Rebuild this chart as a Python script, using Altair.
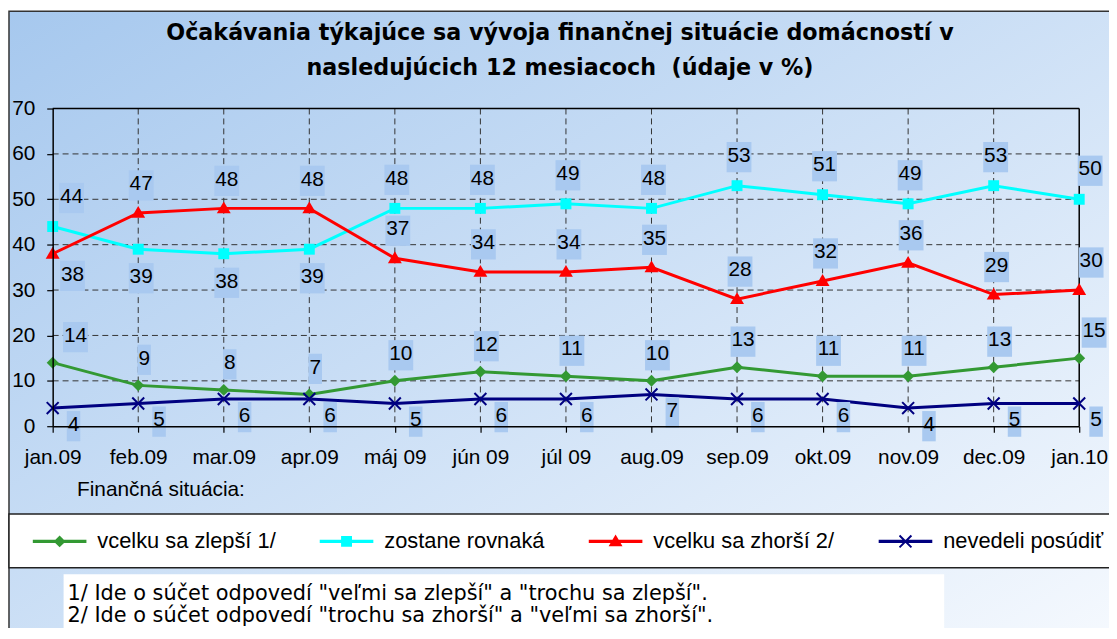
import json
import altair as alt
import pandas as pd

# ---------------- data ----------------
months = ["jan.09", "feb.09", "mar.09", "apr.09", "máj 09", "jún 09", "júl 09",
          "aug.09", "sep.09", "okt.09", "nov.09", "dec.09", "jan.10"]
series_names = ["vcelku sa zlepší 1/", "zostane rovnaká", "vcelku sa zhorší 2/", "nevedeli posúdiť"]
better = [14, 9, 8, 7, 10, 12, 11, 10, 13, 11, 11, 13, 15]
same = [44, 39, 38, 39, 48, 48, 49, 48, 53, 51, 49, 53, 50]
worse = [38, 47, 48, 48, 37, 34, 34, 35, 28, 32, 36, 29, 30]
unsure = [4, 5, 6, 6, 5, 6, 6, 7, 6, 6, 4, 5, 5]
y_ticks = [0, 10, 20, 30, 40, 50, 60, 70]
title_lines = ["Očakávania týkajúce sa vývoja finančnej situácie domácností v",
               "nasledujúcich 12 mesiacoch \u00a0(údaje v %)"]
x_title = "Finančná situácia:"
footnotes = ['1/ Ide o súčet odpovedí "veľmi sa zlepší" a "trochu sa zlepší".',
             '2/ Ide o súčet odpovedí "trochu sa zhorší" a "veľmi sa zhorší".']

# ---------------- styles ----------------
colors = ["#339933", "#00FFFF", "#FF0000", "#000080"]
BOX = "#A9C9F0"
FONT = "Liberation Sans, Arial, sans-serif"
WIDE = "DejaVu Sans, sans-serif"
W, H = 1034, 320

values = [better, same, worse, unsure]
rows = []
for s, name in enumerate(series_names):
    for i, m in enumerate(months):
        v = values[s][i]
        if s == 0:
            side = "above"
        elif s == 3:
            side = "below"
        else:
            other = values[3 - s][i]
            side = "below" if (v < other and other - v <= 10) else "above"
        rows.append(dict(month=m, idx=i, series=name, value=v, side=side))
df = pd.DataFrame(rows)
last = len(months) - 1


def xe(field="month"):
    return alt.X(f"{field}:N", sort=months,
                 scale=alt.Scale(domain=months, type="point", padding=0),
                 axis=alt.Axis(labelAngle=0, labelFont=FONT, labelFontSize=21, labelColor="black",
                               labelPadding=15, tickSize=6, tickColor="black", tickWidth=1.2,
                               domainColor="black", domainWidth=1.5, grid=False, zindex=1,
                               labelOverlap=False,
                               title=x_title, titleFont=FONT, titleFontSize=21,
                               titleFontWeight="normal", titleColor="black", titleX=24, titleY=70,
                               titleAlign="left", titleAnchor="start", titleBaseline="alphabetic"))


def ye(field="value"):
    return alt.Y(f"{field}:Q", scale=alt.Scale(domain=[0, 70], nice=False, zero=True),
                 axis=alt.Axis(values=y_ticks, labelFont=FONT, labelFontSize=21, labelColor="black",
                               labelPadding=12, tickSize=6, tickColor="black", tickWidth=1.2,
                               domainColor="black", domainWidth=1.5, grid=False, zindex=1,
                               labelOverlap=False, title=None))


def xpath(cx, a=6.0, t=1.0):
    k = t / 2 ** 0.5
    p1 = [(cx - a + k, -a - k), (cx + a + k, a - k), (cx + a - k, a + k), (cx - a - k, -a + k)]
    p2 = [(cx - a - k, a - k), (cx + a - k, -a - k), (cx + a + k, -a + k), (cx - a + k, a + k)]
    out = ""
    for p in (p1, p2):
        out += "M" + "L".join(f"{x:.2f},{y:.2f}" for x, y in p) + "Z"
    return out


marker_paths = [
    "M0,-6L6,0L0,6L-6,0Z",
    "M-5.5,-5.5H5.5V5.5H-5.5Z",
    "M0,-7L7,5H-7Z",
    xpath(0, 6, 1.0),
]
LINE = "M0,-1.75H54V1.75H0Z"
legend_paths = [
    LINE + "M27,-6L33,0L27,6L21,0Z",
    LINE + "M21.5,-5.5H32.5V5.5H21.5Z",
    LINE + "M27,-7L34,5H20Z",
    LINE + xpath(27, 6, 1.0),
]

one = pd.DataFrame({"k": [0]})
layers = []

# background with gradient and frame
layers.append(alt.Chart(one).mark_rect(
    fill=alt.LinearGradient(gradient="linear",
                            stops=[alt.GradientStop(color="#A6C8EE", offset=0),
                                   alt.GradientStop(color="#FAFCFF", offset=1)],
                            x1=0, y1=0, x2=1, y2=1),
    stroke="#333333", strokeWidth=1.5).encode(
    x=alt.value(-44), x2=alt.value(1100), y=alt.value(-98), y2=alt.value(600)))
# legend band
layers.append(alt.Chart(one).mark_rect(fill="white", stroke="#222222", strokeWidth=1.5).encode(
    x=alt.value(-44), x2=alt.value(1100), y=alt.value(408.5), y2=alt.value(462.5)))
# footnote box
layers.append(alt.Chart(one).mark_rect(fill="white").encode(
    x=alt.value(11), x2=alt.value(898), y=alt.value(469), y2=alt.value(600)))

ticks_df = pd.DataFrame({"tick": y_ticks})
months_df = pd.DataFrame({"month": months})
layers.append(alt.Chart(ticks_df).transform_filter(
    f"datum.tick > {min(y_ticks)} && datum.tick < {max(y_ticks)}").mark_rule(
    color="#333333", strokeWidth=1, strokeDash=[6, 4]).encode(
    y=ye("tick"), x=alt.value(0), x2=alt.value(W)))
layers.append(alt.Chart(months_df).transform_filter(
    alt.FieldOneOfPredicate(field="month", oneOf=months[1:-1])).mark_rule(
    color="#333333", strokeWidth=1, strokeDash=[6, 4]).encode(
    x=xe(), y=alt.value(0), y2=alt.value(H)))
layers.append(alt.Chart(ticks_df).transform_filter(f"datum.tick == {max(y_ticks)}").mark_rule(
    color="black", strokeWidth=1.5).encode(y=ye("tick"), x=alt.value(0), x2=alt.value(W)))
layers.append(alt.Chart(months_df).transform_filter(
    alt.FieldEqualPredicate(field="month", equal=months[-1])).mark_rule(
    color="black", strokeWidth=1.5).encode(x=xe(), y=alt.value(0), y2=alt.value(H)))

# lines and markers, one series at a time
for s, name in enumerate(series_names):
    sel = alt.Chart(df).transform_filter(alt.FieldEqualPredicate(field="series", equal=name))
    layers.append(sel.mark_line(strokeWidth=3, color=colors[s]).encode(x=xe(), y=ye()))
for s, name in enumerate(series_names):
    sel = alt.Chart(df).transform_filter(alt.FieldEqualPredicate(field="series", equal=name))
    layers.append(sel.mark_point(filled=True, size=4, shape=marker_paths[s], color=colors[s],
                                 opacity=1, strokeWidth=0).encode(x=xe(), y=ye()))

# data labels
label_style = {
    (0, "above"): (6, -21),
    (1, "above"): (2, -24), (1, "below"): (3, 34),
    (2, "above"): (3, -23), (2, "below"): (3, 27),
    (3, "below"): (21, 23),
}


def box_path(dx, D, wide):
    w = 25 if wide else 13.5
    return f"M{dx - w / 2:.1f},{D - 20:.1f}H{dx + w / 2:.1f}V{D + 10.5:.1f}H{dx - w / 2:.1f}Z"


for (s, side), (dx0, D) in label_style.items():
    name = series_names[s]
    groups = (("== 0", 0 if s == 3 else 17),
              (f"> 0 && datum.idx < {last}", 0),
              (f"== {last}", -4 if s == 3 else 9))
    for cond, extra in groups:
        dx = dx0 + extra
        base = alt.Chart(df).transform_filter(
            f"datum.series == {json.dumps(name)} && datum.side == '{side}' && datum.idx {cond}")
        layers.append(base.mark_point(filled=True, size=4, color=BOX, opacity=1, strokeWidth=0).encode(
            x=xe(), y=ye(),
            shape=alt.condition("datum.value < 10", alt.value(box_path(dx, D, False)),
                                alt.value(box_path(dx, D, True)))))
        layers.append(base.mark_text(font=FONT, fontSize=21, color="black", align="center",
                                     baseline="alphabetic", dx=dx, dy=D).encode(
            x=xe(), y=ye(), text=alt.Text("value:Q")))

# title
layers.append(alt.Chart(pd.DataFrame({"t": ["\n".join(title_lines)]})).mark_text(
    font=WIDE, fontSize=22.4, fontWeight="bold", color="black", align="center",
    baseline="alphabetic", lineBreak="\n", lineHeight=35).encode(
    text="t:N", x=alt.value(511), y=alt.value(-69)))

# footnotes
layers.append(alt.Chart(pd.DataFrame({"t": ["\n".join(footnotes)]})).mark_text(
    font=WIDE, fontSize=21, color="black", align="left",
    baseline="alphabetic", lineBreak="\n", lineHeight=22).encode(
    text="t:N", x=alt.value(15), y=alt.value(495)))

# legend: colour + shape legend of a point layer whose marks sit off-canvas
leg = dict(orient="none", legendX=-31, legendY=425, direction="horizontal", title=None,
           labelFont=FONT, labelFontSize=22, labelColor="black", labelLimit=600,
           symbolSize=4, symbolStrokeWidth=0, labelOffset=54, columnPadding=33,
           padding=0, zindex=1, symbolOffset=0)
layers.append(alt.Chart(df).mark_point(filled=True, opacity=1).encode(
    x=alt.value(-3000), y=alt.value(-3000),
    color=alt.Color("series:N", scale=alt.Scale(domain=series_names, range=colors),
                    legend=alt.Legend(**leg)),
    shape=alt.Shape("series:N", scale=alt.Scale(domain=series_names, range=legend_paths),
                    legend=alt.Legend(**leg))))

chart = alt.layer(*layers).properties(
    width=W, height=H,
    padding={"left": 45, "top": 99, "right": 30, "bottom": 201},
    autosize=alt.AutoSizeParams(type="none"),
).configure_view(stroke=None)

chart.save("out.html", embed_options={"renderer": "svg", "actions": False})
